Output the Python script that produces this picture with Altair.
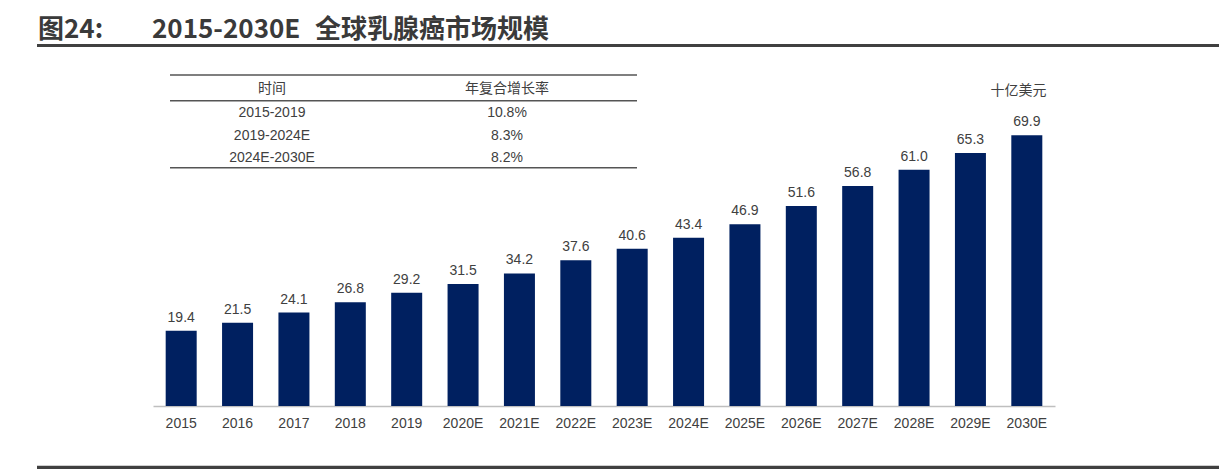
import altair as alt
import pandas as pd

years = ["2015", "2016", "2017", "2018", "2019", "2020E", "2021E", "2022E",
         "2023E", "2024E", "2025E", "2026E", "2027E", "2028E", "2029E", "2030E"]
values = [19.4, 21.5, 24.1, 26.8, 29.2, 31.5, 34.2, 37.6,
          40.6, 43.4, 46.9, 51.6, 56.8, 61.0, 65.3, 69.9]
periods = ["2015-2019", "2019-2024E", "2024E-2030E"]
cagr = ["10.8%", "8.3%", "8.2%"]
table_header = ["时间", "年复合增长率"]
title_prefix = "图24:"
title_range = "2015-2030E"
title_main = "全球乳腺癌市场规模"
unit_label = "十亿美元"

df = pd.DataFrame({"year": years, "value": values})
df["label"] = [f"{v:.1f}" for v in values]

FONT = "Liberation Sans, Noto Sans CJK SC, sans-serif"
TFONT = "Noto Sans CJK SC"
TXT = "#404040"
BAR = "#002060"

x_enc = alt.X("year:N", sort=years, title=None,
              scale=alt.Scale(paddingInner=0.45, paddingOuter=0.225),
              axis=alt.Axis(labelAngle=0, ticks=False, labelPadding=10,
                            domainColor="#bfbfbf", domainWidth=1.5,
                            labelFont=FONT, labelFontSize=14, labelColor=TXT))
y_enc = alt.Y("value:Q", scale=alt.Scale(domain=[0, 80]), axis=None)

bars = alt.Chart(df).mark_bar(color=BAR).encode(x=x_enc, y=y_enc)
labels = alt.Chart(df).mark_text(dy=-9, baseline="alphabetic", font=FONT,
                                 fontSize=14, color=TXT).encode(
    x=alt.X("year:N", sort=years),
    y=alt.Y("value:Q", axis=None),
    text="label:N")

ann = pd.DataFrame({"k": [0]})
layers = [bars, labels]

def txt(text, x, y, **kw):
    params = dict(font=FONT, fontSize=14, color=TXT, align="center", baseline="middle")
    params.update(kw)
    return alt.Chart(ann).mark_text(text=text, **params).encode(
        x=alt.value(x), y=alt.value(y))

def hline(x1, x2, y, w, color):
    return alt.Chart(ann).mark_rule(color=color, strokeWidth=w).encode(
        x=alt.value(x1), x2=alt.value(x2), y=alt.value(y))

# Title
tkw = dict(font=TFONT, fontWeight="bold", color="#3a3a3a", align="left", baseline="alphabetic")
layers.append(txt(title_prefix, -115, -57.6, fontSize=26, **tkw))
layers.append(txt(title_range, -1, -57.6, fontSize=26, **tkw))
layers.append(txt(title_main, 162, -57.6, fontSize=26, **tkw))
layers.append(hline(-116, 1070, -50.5, 3, "#404040"))
layers.append(hline(-116, 1070, 371.5, 3.5, "#404040"))

# Table
layers.append(hline(17, 484, -21, 1.5, "#555555"))
layers.append(hline(17, 484, 4.7, 1.5, "#555555"))
layers.append(hline(17, 484, 71.7, 1.5, "#555555"))
layers.append(txt(table_header[0], 119, -7))
layers.append(txt(table_header[1], 354, -7))
row_y = [17, 39.5, 61.5]
for p, c, yy in zip(periods, cagr, row_y):
    layers.append(txt(p, 119, yy))
    layers.append(txt(c, 354, yy))

# Unit
layers.append(txt(unit_label, 865.5, -5))

chart = alt.layer(*layers).properties(
    width=902, height=310,
    background="white",
    padding={"left": 145, "top": 88, "right": 164, "bottom": 63},
    autosize=alt.AutoSizeParams(type="none"),
).configure_view(stroke="transparent", strokeWidth=0)

chart.save("out.html", embed_options={"renderer": "svg", "actions": False})
